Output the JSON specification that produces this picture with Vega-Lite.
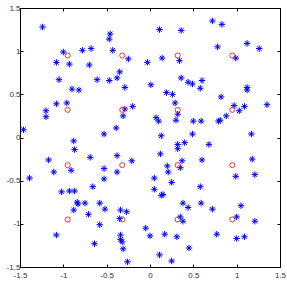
{
  "$schema": "https://vega.github.io/schema/vega-lite/v6.json",
  "width": 260,
  "height": 259,
  "autosize": "none",
  "padding": {"left": 20, "top": 8, "right": 7, "bottom": 18},
  "background": "white",
  "config": {
    "view": {"stroke": "black", "strokeWidth": 1},
    "axis": {
      "grid": false,
      "domainColor": "black",
      "tickColor": "black",
      "tickSize": -3,
      "labelFont": "Liberation Sans",
      "labelFontSize": 8,
      "labelColor": "#333",
      "labelPadding": 3,
      "title": null
    }
  },
  "datasets": {
    "stars": [
      {"x": -1.24, "y": 1.28}, {"x": -1.46, "y": 0.09}, {"x": -1.0, "y": 0.99}, {"x": -0.78, "y": 1.01},
      {"x": -0.68, "y": 1.03}, {"x": -1.08, "y": 0.87}, {"x": -0.93, "y": 0.85}, {"x": -0.7, "y": 0.84},
      {"x": -1.05, "y": 0.67}, {"x": -0.61, "y": 0.67}, {"x": -0.9, "y": 0.56}, {"x": -0.82, "y": 0.55},
      {"x": -1.08, "y": 0.39}, {"x": -0.96, "y": 0.4}, {"x": -1.2, "y": 0.31}, {"x": -1.2, "y": 0.24},
      {"x": -0.88, "y": -0.04}, {"x": -0.46, "y": 1.2}, {"x": -0.47, "y": 1.14}, {"x": -0.43, "y": 1.01},
      {"x": -0.25, "y": 0.91}, {"x": -0.35, "y": 0.76}, {"x": -0.38, "y": 0.69}, {"x": -0.47, "y": 0.66},
      {"x": -0.29, "y": 0.58}, {"x": -0.2, "y": 0.36}, {"x": -0.29, "y": 0.33}, {"x": -0.31, "y": 0.25},
      {"x": -0.39, "y": 0.11}, {"x": -0.53, "y": 0.04}, {"x": -0.03, "y": 0.87}, {"x": 0.01, "y": 0.61},
      {"x": 0.11, "y": 1.25}, {"x": 0.36, "y": 1.24}, {"x": 0.72, "y": 1.35}, {"x": 0.83, "y": 1.31},
      {"x": 0.78, "y": 1.05}, {"x": 1.12, "y": 1.09}, {"x": 1.26, "y": 1.03}, {"x": 0.14, "y": 0.92},
      {"x": 0.34, "y": 0.89}, {"x": 0.99, "y": 0.92}, {"x": 0.36, "y": 0.69}, {"x": 0.44, "y": 0.64},
      {"x": 0.49, "y": 0.62}, {"x": 0.6, "y": 0.66}, {"x": 0.58, "y": 0.57}, {"x": 0.19, "y": 0.52},
      {"x": 0.26, "y": 0.5}, {"x": 0.29, "y": 0.4}, {"x": 0.82, "y": 0.47}, {"x": 1.12, "y": 0.58},
      {"x": 1.12, "y": 0.55}, {"x": 0.97, "y": 0.37}, {"x": 1.03, "y": 0.31}, {"x": 1.09, "y": 0.36},
      {"x": 1.35, "y": 0.38}, {"x": 0.32, "y": 0.27}, {"x": 0.07, "y": 0.23}, {"x": 0.1, "y": 0.19},
      {"x": 0.3, "y": 0.2}, {"x": 0.5, "y": 0.19}, {"x": 0.59, "y": 0.19}, {"x": 0.79, "y": 0.19},
      {"x": 0.81, "y": 0.2}, {"x": 0.88, "y": 0.25}, {"x": 0.13, "y": 0.02}, {"x": 0.49, "y": 0.04},
      {"x": 1.17, "y": 0.04}, {"x": 0.32, "y": -0.08}, {"x": 0.32, "y": -0.13}, {"x": 0.4, "y": -0.06},
      {"x": 0.68, "y": -0.08}, {"x": 0.12, "y": -0.19}, {"x": 0.37, "y": -0.27}, {"x": 0.6, "y": -0.26},
      {"x": 1.18, "y": -0.25}, {"x": 0.2, "y": -0.33}, {"x": 0.35, "y": -0.35}, {"x": 0.21, "y": -0.4},
      {"x": 0.99, "y": -0.45}, {"x": 1.21, "y": -0.43}, {"x": 0.05, "y": -0.47}, {"x": 0.25, "y": -0.52},
      {"x": 0.05, "y": -0.6}, {"x": 0.58, "y": -0.57}, {"x": 0.13, "y": -0.67}, {"x": 0.15, "y": -0.66},
      {"x": 0.38, "y": -0.76}, {"x": 0.44, "y": -0.81}, {"x": 0.59, "y": -0.76}, {"x": 0.72, "y": -0.83},
      {"x": 1.05, "y": -0.79}, {"x": 0.35, "y": -0.92}, {"x": 0.38, "y": -0.97}, {"x": 1.0, "y": -0.92},
      {"x": 1.21, "y": -0.97}, {"x": -0.05, "y": -1.05}, {"x": 0.0, "y": -1.14}, {"x": 0.17, "y": -1.12},
      {"x": 0.31, "y": -1.15}, {"x": 0.77, "y": -1.12}, {"x": 1.0, "y": -1.17}, {"x": 1.09, "y": -1.15},
      {"x": 0.45, "y": -1.28}, {"x": 0.11, "y": -1.36}, {"x": 0.25, "y": -1.43},
      {"x": -0.87, "y": -0.14}, {"x": -1.17, "y": -0.26}, {"x": -1.11, "y": -0.4}, {"x": -0.69, "y": -0.23},
      {"x": -0.38, "y": -0.21}, {"x": -0.21, "y": -0.27}, {"x": -0.91, "y": -0.38}, {"x": -0.53, "y": -0.36},
      {"x": -0.38, "y": -0.4}, {"x": -1.39, "y": -0.47}, {"x": -0.53, "y": -0.48}, {"x": -0.66, "y": -0.57},
      {"x": -1.02, "y": -0.63}, {"x": -0.93, "y": -0.62}, {"x": -0.87, "y": -0.62}, {"x": -0.84, "y": -0.75},
      {"x": -0.83, "y": -0.77}, {"x": -0.75, "y": -0.76}, {"x": -0.58, "y": -0.76}, {"x": -0.52, "y": -0.83},
      {"x": -0.88, "y": -0.84}, {"x": -0.71, "y": -0.89}, {"x": -0.34, "y": -0.84}, {"x": -0.27, "y": -0.86},
      {"x": -0.35, "y": -0.94}, {"x": -0.58, "y": -1.01}, {"x": -1.08, "y": -1.13}, {"x": -0.34, "y": -1.13},
      {"x": -0.34, "y": -1.18}, {"x": -0.32, "y": -1.21}, {"x": -0.31, "y": -1.29}, {"x": -0.64, "y": -1.23},
      {"x": -0.26, "y": -1.44}
    ],
    "circles": [
      {"x": -0.95, "y": 0.95}, {"x": -0.32, "y": 0.95}, {"x": 0.32, "y": 0.95}, {"x": 0.95, "y": 0.95},
      {"x": -0.95, "y": 0.32}, {"x": -0.32, "y": 0.32}, {"x": 0.32, "y": 0.32}, {"x": 0.95, "y": 0.32},
      {"x": -0.95, "y": -0.32}, {"x": -0.32, "y": -0.32}, {"x": 0.32, "y": -0.32}, {"x": 0.95, "y": -0.32},
      {"x": -0.95, "y": -0.95}, {"x": -0.32, "y": -0.95}, {"x": 0.32, "y": -0.95}, {"x": 0.95, "y": -0.95}
    ]
  },
  "layer": [
    {
      "data": {"name": "stars"},
      "mark": {
        "type": "point",
        "shape": "M-1,0L1,0M0,-1L0,1M-0.7,-0.7L0.7,0.7M-0.7,0.7L0.7,-0.7",
        "filled": false,
        "stroke": "#0000FF",
        "strokeWidth": 1,
        "opacity": 1,
        "size": 42
      },
      "encoding": {
        "x": {"field": "x", "type": "quantitative",
              "scale": {"domain": [-1.5, 1.5], "nice": false, "zero": false},
              "axis": {"orient": "bottom", "values": [-1.5, -1, -0.5, 0, 0.5, 1, 1.5], "labelExpr": "toString(datum.value)", "labelFlush": false, "labelPadding": 7}},
        "y": {"field": "y", "type": "quantitative",
              "scale": {"domain": [-1.5, 1.5], "nice": false, "zero": false},
              "axis": {"orient": "left", "values": [-1.5, -1, -0.5, 0, 0.5, 1, 1.5], "labelExpr": "toString(datum.value)", "labelFlush": false, "labelPadding": 3}}
      }
    },
    {
      "data": {"name": "circles"},
      "mark": {
        "type": "point",
        "shape": "circle",
        "filled": false,
        "stroke": "#FF0000",
        "strokeWidth": 0.8,
        "opacity": 1,
        "size": 26
      },
      "encoding": {
        "x": {"field": "x", "type": "quantitative",
              "axis": {"orient": "top", "values": [-1.5, -1, -0.5, 0, 0.5, 1, 1.5], "labels": false}},
        "y": {"field": "y", "type": "quantitative",
              "axis": {"orient": "right", "values": [-1.5, -1, -0.5, 0, 0.5, 1, 1.5], "labels": false}}
      }
    }
  ],
  "resolve": {"axis": {"x": "independent", "y": "independent"}}
}
